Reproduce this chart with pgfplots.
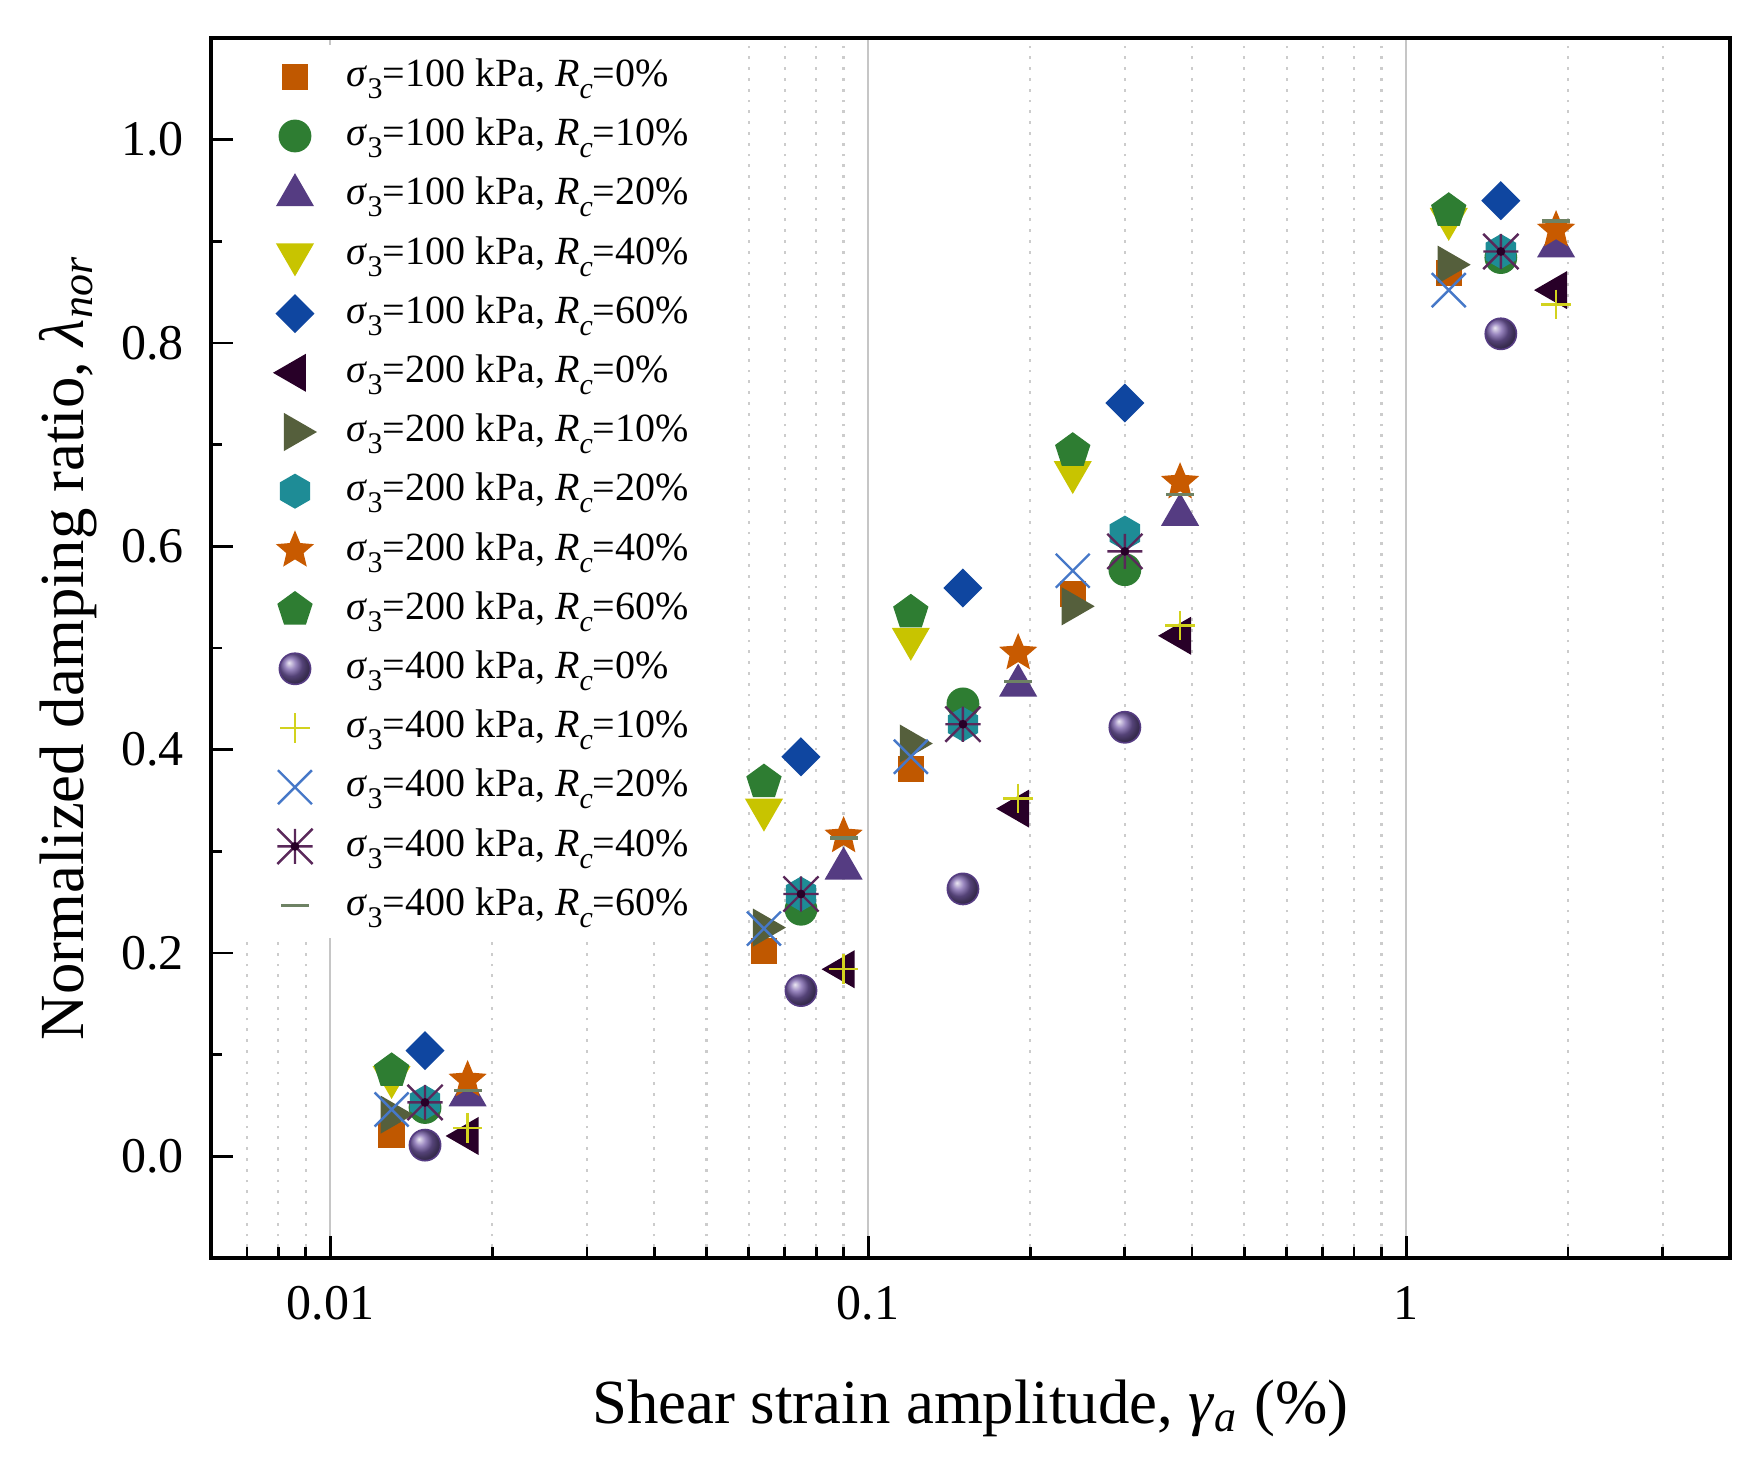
\documentclass[border=0pt]{standalone}
\usepackage{pgfplots}
\pgfplotsset{compat=1.18}
\usetikzlibrary{plotmarks}
\usepackage{fontspec}
\setmainfont{Liberation Serif}

\definecolor{c1}{RGB}{192,88,0}
\definecolor{c2}{RGB}{46,125,50}
\definecolor{c3}{RGB}{85,60,130}
\definecolor{c4}{RGB}{200,196,0}
\definecolor{c5}{RGB}{15,70,160}
\definecolor{c6}{RGB}{40,0,40}
\definecolor{c7}{RGB}{85,95,60}
\definecolor{c8}{RGB}{30,140,150}
\definecolor{c9}{RGB}{200,90,0}
\definecolor{c10}{RGB}{46,125,50}
\definecolor{c11}{RGB}{85,60,130}
\definecolor{c11b}{RGB}{120,95,170}
\definecolor{c12}{RGB}{210,210,30}
\definecolor{c13}{RGB}{70,120,200}
\definecolor{c14}{RGB}{90,40,90}
\definecolor{c15}{RGB}{110,130,100}

\newcommand{\sub}[1]{\raisebox{-3pt}{\fontsize{7.5}{7.5}\selectfont #1}}
\newcommand{\lab}[2]{\textit{σ}\sub{3}=#1 kPa, \textit{R}\sub{\textit{c}}=#2\%}

\pgfdeclareplotmark{hexagon*}{%
  \pgfpathmoveto{\pgfqpointpolar{90}{\pgfplotmarksize}}%
  \pgfpathlineto{\pgfqpointpolar{150}{\pgfplotmarksize}}%
  \pgfpathlineto{\pgfqpointpolar{210}{\pgfplotmarksize}}%
  \pgfpathlineto{\pgfqpointpolar{270}{\pgfplotmarksize}}%
  \pgfpathlineto{\pgfqpointpolar{330}{\pgfplotmarksize}}%
  \pgfpathlineto{\pgfqpointpolar{30}{\pgfplotmarksize}}%
  \pgfpathclose
  \pgfusepathqfillstroke
}
\pgfdeclareplotmark{fstar}{%
  \pgfpathmoveto{\pgfqpointpolar{90}{\pgfplotmarksize}}%
  \pgfpathlineto{\pgfqpointpolar{126}{0.45\pgfplotmarksize}}%
  \pgfpathlineto{\pgfqpointpolar{162}{\pgfplotmarksize}}%
  \pgfpathlineto{\pgfqpointpolar{198}{0.45\pgfplotmarksize}}%
  \pgfpathlineto{\pgfqpointpolar{234}{\pgfplotmarksize}}%
  \pgfpathlineto{\pgfqpointpolar{270}{0.45\pgfplotmarksize}}%
  \pgfpathlineto{\pgfqpointpolar{306}{\pgfplotmarksize}}%
  \pgfpathlineto{\pgfqpointpolar{342}{0.45\pgfplotmarksize}}%
  \pgfpathlineto{\pgfqpointpolar{18}{\pgfplotmarksize}}%
  \pgfpathlineto{\pgfqpointpolar{54}{0.45\pgfplotmarksize}}%
  \pgfpathclose
  \pgfusepathqfillstroke
}
\pgfdeclareplotmark{ast8}{%
  \pgfpathmoveto{\pgfqpoint{-\pgfplotmarksize}{0pt}}%
  \pgfpathlineto{\pgfqpoint{\pgfplotmarksize}{0pt}}%
  \pgfpathmoveto{\pgfqpoint{0pt}{-\pgfplotmarksize}}%
  \pgfpathlineto{\pgfqpoint{0pt}{\pgfplotmarksize}}%
  \pgfpathmoveto{\pgfqpoint{-\pgfplotmarksize}{-\pgfplotmarksize}}%
  \pgfpathlineto{\pgfqpoint{\pgfplotmarksize}{\pgfplotmarksize}}%
  \pgfpathmoveto{\pgfqpoint{-\pgfplotmarksize}{\pgfplotmarksize}}%
  \pgfpathlineto{\pgfqpoint{\pgfplotmarksize}{-\pgfplotmarksize}}%
  \pgfusepathqstroke
  \pgfpathcircle{\pgfpointorigin}{1.1pt}%
  \pgfsetfillcolor{c6}%
  \pgfusepathqfill
}

\begin{document}
\begin{tikzpicture}
\useasboundingbox (-52.75pt,-53.75pt) rectangle (387.25pt,314.5pt);
\begin{axis}[
  scale only axis,
  width=379.75pt, height=305pt,
  xmode=log,
  xmin=0.006, xmax=4,
  ymin=-0.1, ymax=1.1,
  xtick={0.01,0.1,1},
  xticklabels={0.01,0.1,1},
  minor xtick={0.007,0.008,0.009,0.02,0.03,0.04,0.05,0.06,0.07,0.08,0.09,0.2,0.3,0.4,0.5,0.6,0.7,0.8,0.9,2,3},
  ytick={0,0.2,0.4,0.6,0.8,1.0},
  yticklabels={0.0,0.2,0.4,0.6,0.8,1.0},
  minor ytick={-0.1,0.1,0.3,0.5,0.7,0.9},
  tick align=inside,
  tick pos=left,
  major tick length=5.5pt,
  minor tick length=2.75pt,
  every tick/.style={black, line width=0.7pt},
  axis line style={line width=0.8pt},
  xmajorgrids=true, xminorgrids=true,
  major grid style={gray!45, line width=0.5pt},
  minor grid style={gray!40, line width=0.6pt, dash pattern=on 0.7pt off 2pt},
  /pgf/number format/assume math mode=true,
  tick label style={font=\fontsize{12.5}{14}\selectfont},
  xticklabel style={yshift=-3.5pt},
  yticklabel style={xshift=-3.3pt},
  label style={font=\fontsize{15.7}{18}\selectfont},
  xlabel={Shear strain amplitude, \textit{γ}\textsubscript{\textit{a}} (\%)},
  xlabel style={at={(axis description cs:0.5,0)}, anchor=base, yshift=-41.3pt},
  ylabel={Normalized damping ratio, \textit{λ}\textsubscript{\textit{nor}}},
  ylabel style={at={(axis description cs:-0.094,0.5)}, anchor=center, rotate=0},
  legend cell align=left,
  legend style={at={(axis description cs:0,1)}, anchor=north west,
    xshift=6.2pt, yshift=-1.5pt, draw=none, fill=white,
    font=\fontsize{10}{12}\selectfont,
    inner xsep=9.5pt, inner ysep=0.6pt, row sep=0pt, column sep=5.8pt,
    nodes={inner sep=2pt, text height=7.85pt, text depth=2.95pt}},
]
% 100 kPa
\addplot[only marks, mark=square*, mark size=3.1pt, color=c1] coordinates {(0.013,0.021)(0.064,0.202)(0.12,0.381)(0.24,0.553)(1.2,0.869)};
\addlegendentry{\lab{100}{0}}
\addplot[only marks, mark=*, mark size=3.9pt, color=c2] coordinates {(0.015,0.048)(0.075,0.243)(0.15,0.445)(0.30,0.577)(1.5,0.884)};
\addlegendentry{\lab{100}{10}}
\addplot[only marks, mark=triangle*, mark size=5.1pt, color=c3] coordinates {(0.018,0.060)(0.09,0.283)(0.19,0.463)(0.38,0.631)(1.9,0.895)};
\addlegendentry{\lab{100}{20}}
\addplot[only marks, mark=triangle*, mark size=5.1pt, mark options={rotate=180}, color=c4] coordinates {(0.013,0.078)(0.064,0.341)(0.12,0.509)(0.24,0.673)(1.2,0.922)};
\addlegendentry{\lab{100}{40}}
\addplot[only marks, mark=square*, mark size=3.25pt, mark options={rotate=45}, color=c5] coordinates {(0.015,0.104)(0.075,0.393)(0.15,0.559)(0.30,0.741)(1.5,0.940)};
\addlegendentry{\lab{100}{60}}
% 200 kPa
\addplot[only marks, mark=triangle*, mark size=5.1pt, mark options={rotate=90}, color=c6] coordinates {(0.018,0.020)(0.09,0.184)(0.19,0.342)(0.38,0.512)(1.9,0.852)};
\addlegendentry{\lab{200}{0}}
\addplot[only marks, mark=triangle*, mark size=5.1pt, mark options={rotate=-90}, color=c7] coordinates {(0.013,0.041)(0.064,0.225)(0.12,0.406)(0.24,0.541)(1.2,0.877)};
\addlegendentry{\lab{200}{10}}
\addplot[only marks, mark=hexagon*, mark size=4.15pt, color=c8] coordinates {(0.015,0.053)(0.075,0.258)(0.15,0.425)(0.30,0.613)(1.5,0.890)};
\addlegendentry{\lab{200}{20}}
\addplot[only marks, mark=fstar, mark size=4.5pt, color=c9] coordinates {(0.018,0.075)(0.09,0.315)(0.19,0.495)(0.38,0.663)(1.9,0.911)};
\addlegendentry{\lab{200}{40}}
\addplot[only marks, mark=pentagon*, mark size=4.4pt, color=c10] coordinates {(0.013,0.084)(0.064,0.368)(0.12,0.535)(0.24,0.694)(1.2,0.930)};
\addlegendentry{\lab{200}{60}}
% 400 kPa
\addplot[only marks, mark=ball, mark size=3.9pt, ball color=c11b, color=c11] coordinates {(0.015,0.011)(0.075,0.163)(0.15,0.263)(0.30,0.422)(1.5,0.809)};
\addlegendentry{\lab{400}{0}}
\addplot[only marks, mark=+, mark size=3.7pt, line width=0.6pt, color=c12] coordinates {(0.018,0.028)(0.09,0.184)(0.19,0.352)(0.38,0.522)(1.9,0.838)};
\addlegendentry{\lab{400}{10}}
\addplot[only marks, mark=x, mark size=6pt, line width=0.6pt, color=c13] coordinates {(0.013,0.046)(0.064,0.224)(0.12,0.393)(0.24,0.576)(1.2,0.852)};
\addlegendentry{\lab{400}{20}}
\addplot[only marks, mark=ast8, mark size=4.4pt, line width=0.6pt, color=c14] coordinates {(0.015,0.053)(0.075,0.258)(0.15,0.425)(0.30,0.595)(1.5,0.890)};
\addlegendentry{\lab{400}{40}}
\addplot[only marks, mark=-, mark size=3.5pt, line width=0.8pt, color=c15] coordinates {(0.018,0.065)(0.09,0.313)(0.19,0.467)(0.38,0.651)(1.9,0.920)};
\addlegendentry{\lab{400}{60}}
\end{axis}
\end{tikzpicture}
\end{document}
